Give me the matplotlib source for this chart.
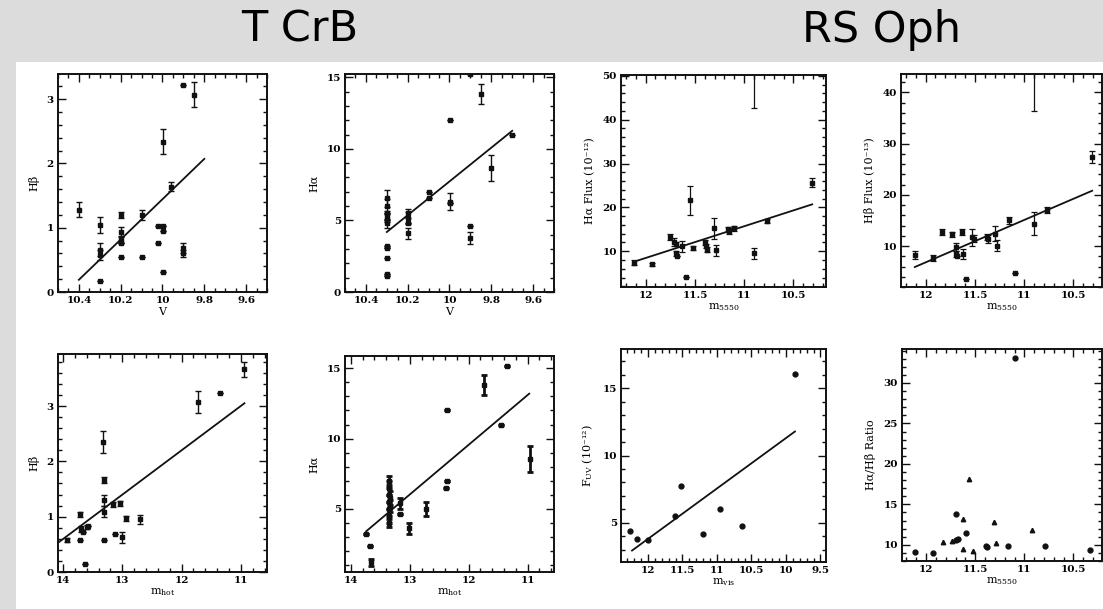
import matplotlib
matplotlib.use("Agg")
import matplotlib.pyplot as plt
from matplotlib.patches import Rectangle
from matplotlib.ticker import MultipleLocator, FuncFormatter

# ---------------- data ----------------
# Panel 1: T CrB, H-beta vs V
p1_v = [10.40, 10.30, 10.30, 10.30, 10.30, 10.20, 10.20, 10.20, 10.20, 10.20, 10.10, 10.10,
        10.02, 10.02, 10.00, 10.00, 10.00, 10.00, 9.96, 9.90, 9.90, 9.90, 9.85]
p1_hb = [1.28, 1.04, 0.66, 0.58, 0.17, 1.20, 0.94, 0.81, 0.76, 0.54, 1.20, 0.55,
         1.03, 0.76, 2.34, 1.03, 0.95, 0.31, 1.64, 0.68, 0.60, 3.22, 3.07]
p1_err = [0.12, 0.12, 0.10, 0.08, 0.0, 0.05, 0.07, 0.05, 0.0, 0.0, 0.08, 0.0,
          0.0, 0.0, 0.20, 0.0, 0.0, 0.0, 0.07, 0.08, 0.06, 0.0, 0.20]
p1_fit_x = [10.40, 9.80]
p1_fit_y = [0.19, 2.07]

# Panel 2: T CrB, H-alpha vs V
p2_v = [10.30, 10.30, 10.30, 10.30, 10.30, 10.30, 10.30, 10.30, 10.30, 10.30, 10.30,
        10.20, 10.20, 10.20, 10.20, 10.10, 10.10, 10.00, 10.00, 10.00,
        9.90, 9.90, 9.90, 9.85, 9.80, 9.70]
p2_ha = [6.56, 5.98, 5.50, 5.28, 5.05, 4.80, 3.23, 3.07, 2.37, 1.26, 1.14,
         5.50, 5.16, 4.80, 4.10, 7.00, 6.56, 12.00, 6.30, 6.20,
         4.58, 3.77, 15.20, 13.80, 8.65, 10.98]
p2_err = [0.60, 0.50, 0.0, 0.40, 0.0, 0.30, 0.0, 0.0, 0.0, 0.0, 0.0,
          0.30, 0.40, 0.0, 0.40, 0.0, 0.0, 0.0, 0.60, 0.0,
          0.0, 0.40, 0.0, 0.70, 0.90, 0.0]
p2_fit_x = [10.30, 9.70]
p2_fit_y = [4.19, 11.26]

# Panel 3: RS Oph, H-alpha flux vs m5550
p3_m = [12.12, 11.94, 11.75, 11.71, 11.69, 11.69, 11.68, 11.63, 11.59, 11.55, 11.52,
        11.40, 11.39, 11.38, 11.31, 11.29, 11.16, 11.15, 11.10, 10.90, 10.90, 10.77, 10.31]
p3_f = [7.4, 7.0, 13.3, 12.1, 11.7, 9.5, 9.0, 11.1, 4.1, 21.6, 10.8,
        12.0, 11.2, 10.4, 15.2, 10.2, 15.0, 14.6, 15.2, 9.5, 51.0, 16.9, 25.6]
p3_err = [0.5, 0.4, 0.7, 1.0, 0.5, 0.6, 0.0, 1.3, 0.0, 3.3, 0.5,
          0.5, 0.5, 0.5, 2.3, 1.2, 0.6, 0.6, 0.6, 1.3, 8.4, 0.5, 1.0]
p3_fit_x = [12.12, 10.31]
p3_fit_y = [7.6, 20.7]

# Panel 4: RS Oph, H-beta flux vs m5550
p4_m = [12.11, 11.93, 11.83, 11.73, 11.69, 11.69, 11.68, 11.63, 11.62, 11.59, 11.53,
        11.51, 11.38, 11.37, 11.30, 11.28, 11.15, 11.09, 10.90, 10.90, 10.77, 10.31]
p4_f = [8.2, 7.65, 12.7, 12.3, 9.8, 8.5, 8.0, 12.7, 8.5, 3.6, 11.7,
        11.4, 11.8, 11.4, 12.4, 10.1, 15.0, 4.8, 14.4, 44.5, 17.0, 27.4]
p4_err = [0.8, 0.6, 0.6, 0.5, 0.7, 0.6, 0.0, 0.6, 1.0, 0.0, 1.7,
          0.7, 0.6, 0.8, 1.5, 1.0, 0.7, 0.0, 2.3, 8.1, 0.6, 1.2]
p4_fit_x = [12.11, 10.31]
p4_fit_y = [5.9, 20.8]

# Panel 5: T CrB, H-beta vs m_hot
p5_m = [13.93, 13.72, 13.71, 13.69, 13.66, 13.63, 13.60, 13.58, 13.32, 13.31, 13.31,
        13.31, 13.31, 13.15, 13.13, 13.04, 13.01, 12.94, 12.71, 11.73, 11.36, 10.95]
p5_hb = [0.58, 0.58, 1.04, 0.78, 0.72, 0.15, 0.81, 0.83, 2.35, 1.66, 1.30,
         1.09, 0.57, 1.22, 0.69, 1.24, 0.63, 0.97, 0.95, 3.08, 3.23, 3.66]
p5_err = [0.03, 0.0, 0.05, 0.05, 0.0, 0.0, 0.04, 0.0, 0.20, 0.06, 0.10,
          0.10, 0.0, 0.05, 0.0, 0.05, 0.10, 0.04, 0.08, 0.20, 0.0, 0.13]
p5_fit_x = [14.07, 10.94]
p5_fit_y = [0.54, 3.05]

# Panel 6: T CrB, H-alpha vs m_hot
p6_m = [13.74, 13.67, 13.65, 13.36, 13.36, 13.36, 13.36, 13.36, 13.36, 13.36, 13.33, 13.33,
        13.17, 13.16, 13.02, 12.73, 12.39, 12.37, 12.37, 11.74, 11.45, 11.35, 10.95]
p6_ha = [3.22, 2.37, 1.20, 7.0, 6.5, 6.0, 5.5, 5.0, 4.5, 4.0, 5.8, 5.2,
         5.4, 4.6, 3.6, 5.0, 6.5, 7.0, 12.0, 13.8, 11.0, 15.2, 8.55]
p6_err = [0.0, 0.0, 0.25, 0.3, 0.5, 0.5, 0.5, 0.5, 0.5, 0.3, 0.5, 0.4,
          0.4, 0.0, 0.4, 0.5, 0.0, 0.0, 0.0, 0.7, 0.0, 0.0, 0.9]
p6_fit_x = [13.74, 10.97]
p6_fit_y = [3.4, 13.2]

# Panel 7: RS Oph, F_UV vs m_vis
p7_m = [12.26, 12.16, 12.00, 11.61, 11.52, 11.20, 10.95, 10.64, 9.87]
p7_f = [4.43, 3.84, 3.72, 5.54, 7.75, 4.14, 6.06, 4.75, 16.06]
p7_fit_x = [12.23, 9.87]
p7_fit_y = [2.95, 11.78]

# Panel 8: RS Oph, H-alpha/H-beta ratio vs m5550
p8_m_circ = [12.11, 11.93, 11.70, 11.70, 11.68, 11.59, 11.39, 11.38, 11.17, 11.10, 10.79, 10.33]
p8_r_circ = [9.17, 9.05, 13.8, 10.6, 10.7, 11.5, 9.9, 9.7, 9.9, 33.1, 9.9, 9.4]
p8_m_tri = [11.83, 11.74, 11.62, 11.62, 11.56, 11.52, 11.31, 11.29, 10.92]
p8_r_tri = [10.3, 10.5, 13.2, 9.5, 18.1, 9.25, 12.8, 10.2, 11.8]

titles = ["T CrB", "RS Oph"]

# ---------------- figure ----------------
W, H = 1103, 609
fig = plt.figure(figsize=(W / 100, H / 100), dpi=100)
fig.patch.set_facecolor("#dcdcdc")
fig.patches.append(Rectangle((16 / W, 0), 1 - 16 / W, 1 - 62 / H, transform=fig.transFigure,
                             facecolor="white", edgecolor="none", zorder=-10))

fig.text(300 / W, 1 - 30 / H, titles[0], ha="center", va="center", fontsize=31,
         family="DejaVu Sans")
fig.text(882 / W, 1 - 30 / H, titles[1], ha="center", va="center", fontsize=31,
         family="DejaVu Sans")

plt.rcParams["mathtext.fontset"] = "dejavuserif"
TF = dict(family="DejaVu Serif", weight="bold", size=7.5)


def make_ax(x0, y0, x1, y1):
    ax = fig.add_axes([x0 / W, 1 - y1 / H, (x1 - x0) / W, (y1 - y0) / H])
    ax.set_zorder(1)
    return ax


def style(ax, xlim, ylim, xmaj, xmin, ymaj, ymin, xlabel, ylabel):
    ax.set_xlim(*xlim)
    ax.set_ylim(*ylim)
    ax.xaxis.set_major_locator(MultipleLocator(xmaj))
    ax.xaxis.set_minor_locator(MultipleLocator(xmin))
    ax.yaxis.set_major_locator(MultipleLocator(ymaj))
    ax.yaxis.set_minor_locator(MultipleLocator(ymin))
    fmt = FuncFormatter(lambda v, p: "%g" % round(v, 3))
    ax.xaxis.set_major_formatter(fmt)
    ax.yaxis.set_major_formatter(fmt)
    ax.tick_params(which="both", direction="in", top=True, right=True, width=1.0, color="#111111")
    ax.tick_params(which="major", length=5.5, pad=3)
    ax.tick_params(which="minor", length=2.6)
    for lab in ax.get_xticklabels() + ax.get_yticklabels():
        lab.set_fontfamily(TF["family"])
        lab.set_fontweight(TF["weight"])
        lab.set_fontsize(TF["size"])
    for s in ax.spines.values():
        s.set_linewidth(1.4)
        s.set_color("#111111")
    ax.set_xlabel(xlabel, fontsize=8, family="DejaVu Serif", labelpad=1)
    ax.set_ylabel(ylabel, fontsize=8, family="DejaVu Serif", labelpad=5)


def errplot(ax, x, y, e, lw=1.0, ms=3.0, capsize=2.0):
    ax.errorbar(x, y, yerr=e, fmt="s", ms=ms, color="#111111", mec="#111111",
                elinewidth=lw, capsize=capsize, capthick=lw, lw=0, clip_on=True)


# Panel 1
ax1 = make_ax(58, 74, 267, 292)
errplot(ax1, p1_v, p1_hb, p1_err)
ax1.plot(p1_fit_x, p1_fit_y, color="#111111", lw=1.3)
style(ax1, (10.5, 9.5), (0, 3.39), 0.2, 0.05, 1, 0.2, "V", "H\u03b2")

# Panel 2
ax2 = make_ax(345, 74, 554, 292)
errplot(ax2, p2_v, p2_ha, p2_err)
ax2.plot(p2_fit_x, p2_fit_y, color="#111111", lw=1.3)
style(ax2, (10.5, 9.5), (0, 15.23), 0.2, 0.05, 5, 1, "V", "H\u03b1")

# Panel 3
ax3 = make_ax(621, 75, 826, 287)
errplot(ax3, p3_m, p3_f, p3_err, lw=0.9)
ax3.plot(p3_fit_x, p3_fit_y, color="#111111", lw=1.3)
style(ax3, (12.25, 10.17), (1.85, 50.2), 0.5, 0.1, 10, 2, r"m$_{5550}$",
      "H\u03b1 Flux (10\u207b\u00b9\u00b2)")

# Panel 4
ax4 = make_ax(901, 74, 1102, 287)
errplot(ax4, p4_m, p4_f, p4_err, lw=0.9)
ax4.plot(p4_fit_x, p4_fit_y, color="#111111", lw=1.3)
style(ax4, (12.25, 10.21), (2.0, 43.6), 0.5, 0.1, 10, 2, r"m$_{5550}$",
      "H\u03b2 Flux (10\u207b\u00b9\u00b3)")

# Panel 5
ax5 = make_ax(58, 354, 267, 572)
errplot(ax5, p5_m, p5_hb, p5_err)
ax5.plot(p5_fit_x, p5_fit_y, color="#111111", lw=1.3)
style(ax5, (14.085, 10.56), (0, 3.94), 1, 0.2, 1, 0.2, r"m$_{\rm hot}$", "H\u03b2")

# Panel 6
ax6 = make_ax(345, 356, 554, 572)
errplot(ax6, p6_m, p6_ha, p6_err, lw=2.0, capsize=2.2)
ax6.plot(p6_fit_x, p6_fit_y, color="#111111", lw=1.3)
style(ax6, (14.1, 10.55), (0.5, 15.88), 1, 0.2, 5, 1, r"m$_{\rm hot}$", "H\u03b1")

# Panel 7
ax7 = make_ax(621, 349, 826, 562)
ax7.plot(p7_m, p7_f, "o", ms=3.5, color="#111111", lw=0)
ax7.plot(p7_fit_x, p7_fit_y, color="#111111", lw=1.3)
style(ax7, (12.39, 9.42), (2.1, 17.9), 0.5, 0.1, 5, 1, r"m$_{\rm vis}$",
      "F$_{\\rm UV}$ (10\u207b\u00b9\u00b2)")

# Panel 8
ax8 = make_ax(902, 349, 1102, 561)
ax8.plot(p8_m_circ, p8_r_circ, "o", ms=3.5, color="#111111", lw=0)
ax8.plot(p8_m_tri, p8_r_tri, "^", ms=3.2, color="#111111", lw=0)
style(ax8, (12.245, 10.21), (8.0, 34.2), 0.5, 0.1, 5, 1, r"m$_{5550}$",
      "H\u03b1/H\u03b2 Ratio")

fig.savefig("out.png", dpi=100, facecolor=fig.get_facecolor())
